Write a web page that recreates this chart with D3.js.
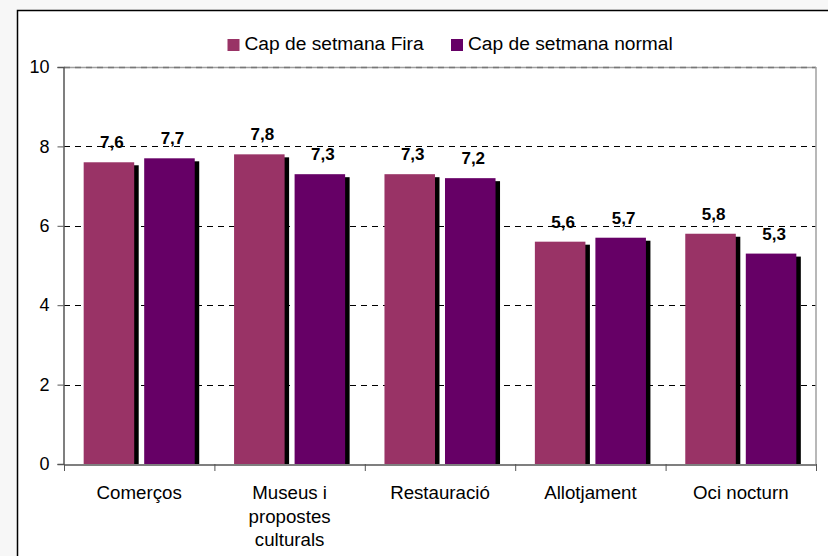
<!DOCTYPE html>
<html>
<head>
<meta charset="utf-8">
<script src="https://cdn.jsdelivr.net/npm/d3@7"></script>
<style>
  html, body { margin: 0; padding: 0; background: #f7f7f7; }
  svg { display: block; font-family: Arial, "Liberation Sans", sans-serif; }
</style>
</head>
<body>
<svg id="chart" width="828" height="556"></svg>
<script>
const categories = ["Comerços", "Museus i|propostes|culturals", "Restauració", "Allotjament", "Oci nocturn"];
const seriesNames = ["Cap de setmana Fira", "Cap de setmana normal"];
const firaValues = [7.6, 7.8, 7.3, 5.6, 5.8];
const normalValues = [7.7, 7.3, 7.2, 5.7, 5.3];
const yTicks = [0, 2, 4, 6, 8, 10];
const colors = ["#993366", "#660066"];

(function () {
const svg = d3.select("#chart");

// panel
svg.append("rect").attr("x", 17.5).attr("y", 10.5).attr("width", 900).attr("height", 900)
  .attr("fill", "#ffffff").attr("stroke", "#000").attr("stroke-width", 1.5);

const pLeft = 64, pRight = 816, pTop = 67, pBottom = 464;
const y = d3.scaleLinear().domain([0, 10]).range([pBottom, pTop]);
const x = d3.scaleBand().domain(categories).range([pLeft, pRight]).padding(0);
const xs = d3.scaleBand().domain(seriesNames).range([0, x.bandwidth()])
  .paddingInner(0.165).paddingOuter(0.325);

// gridlines
svg.append("g").selectAll("line").data(yTicks.filter(t => t > 0 && t < 10)).join("line")
  .attr("x1", pLeft).attr("x2", pRight)
  .attr("y1", d => Math.round(y(d)) + 0.5).attr("y2", d => Math.round(y(d)) + 0.5)
  .attr("stroke", "#000").attr("stroke-width", 1).attr("stroke-dasharray", "6,5");

// plot border top and right
svg.append("line").attr("x1", pLeft).attr("x2", pRight).attr("y1", y(10) + 0.5).attr("y2", y(10) + 0.5)
  .attr("stroke", "#a0a0a0").attr("stroke-width", 1.5);
svg.append("line").attr("x1", pLeft).attr("x2", pRight).attr("y1", y(10) + 0.5).attr("y2", y(10) + 0.5)
  .attr("stroke", "#777").attr("stroke-width", 1.5).attr("stroke-dasharray", "6,5");
svg.append("line").attr("x1", pRight).attr("x2", pRight).attr("y1", y(10)).attr("y2", pBottom)
  .attr("stroke", "#a0a0a0").attr("stroke-width", 1.5);

const data = categories.map((c, i) => ({ cat: c, vals: [firaValues[i], normalValues[i]] }));

const groups = svg.append("g").selectAll("g").data(data).join("g")
  .attr("transform", d => `translate(${x(d.cat)},0)`);

const bars = groups.selectAll("g.bar").data(d => d.vals.map((v, j) => ({ v, s: seriesNames[j], j })))
  .join("g").attr("class", "bar");

// shadow
bars.append("rect")
  .attr("x", d => xs(d.s) + 4.5).attr("y", d => y(d.v) + 3)
  .attr("width", xs.bandwidth()).attr("height", d => pBottom - y(d.v) - 3)
  .attr("fill", "#000");
bars.append("rect")
  .attr("x", d => xs(d.s)).attr("y", d => y(d.v))
  .attr("width", xs.bandwidth()).attr("height", d => pBottom - y(d.v))
  .attr("fill", d => colors[d.j]);
bars.append("text")
  .attr("x", d => xs(d.s) + xs.bandwidth() / 2 + 3)
  .attr("y", d => y(d.v) - 14)
  .attr("text-anchor", "middle").attr("font-weight", "bold").attr("font-size", 17)
  .attr("fill", "#000")
  .text(d => d3.format(".1f")(d.v).replace(".", ","));

// y axis
const yAxis = svg.append("g").attr("transform", `translate(${pLeft - 0.5},0)`)
  .call(d3.axisLeft(y).tickValues(yTicks).tickSize(6).tickPadding(8).tickFormat(d3.format("d")));
yAxis.select(".domain").attr("stroke", "#555").attr("stroke-width", 1.5);
yAxis.selectAll(".tick line").attr("stroke", "#555");
yAxis.selectAll(".tick text").attr("font-size", 18).attr("fill", "#000")
  .attr("font-family", "Arial, 'Liberation Sans', sans-serif");

// x axis
const xAxis = svg.append("g").attr("transform", `translate(0,${pBottom + 0.5})`)
  .call(d3.axisBottom(x).tickSize(0).tickFormat(""));
xAxis.select(".domain").attr("stroke", "#555").attr("stroke-width", 1.5);
const catTicks = categories.map(c => x(c)).concat([pRight]);
svg.append("g").selectAll("line").data(catTicks).join("line")
  .attr("x1", d => d + 0.5).attr("x2", d => d + 0.5).attr("y1", pBottom).attr("y2", pBottom + 7)
  .attr("stroke", "#555");

// category labels
svg.append("g").selectAll("text").data(categories).join("text")
  .attr("x", d => x(d) + x.bandwidth() / 2)
  .attr("y", 499)
  .attr("text-anchor", "middle").attr("font-size", 18.7).attr("fill", "#000")
  .each(function (d) {
    const lines = d.split("|");
    d3.select(this).selectAll("tspan").data(lines).join("tspan")
      .attr("x", x(d) + x.bandwidth() / 2)
      .attr("dy", (l, i) => i === 0 ? 0 : 23.5)
      .text(l => l);
  });

// legend
const legendItems = [{ name: seriesNames[0], x: 227.5, c: colors[0] }, { name: seriesNames[1], x: 451, c: colors[1] }];
const lg = svg.append("g").selectAll("g").data(legendItems).join("g");
lg.append("rect").attr("x", d => d.x).attr("y", 39).attr("width", 12).attr("height", 12).attr("fill", d => d.c);
lg.append("text").attr("x", d => d.x + 17).attr("y", 49.5).attr("font-size", 19.2).attr("fill", "#000")
  .text(d => d.name);
})();
</script>
</body>
</html>
